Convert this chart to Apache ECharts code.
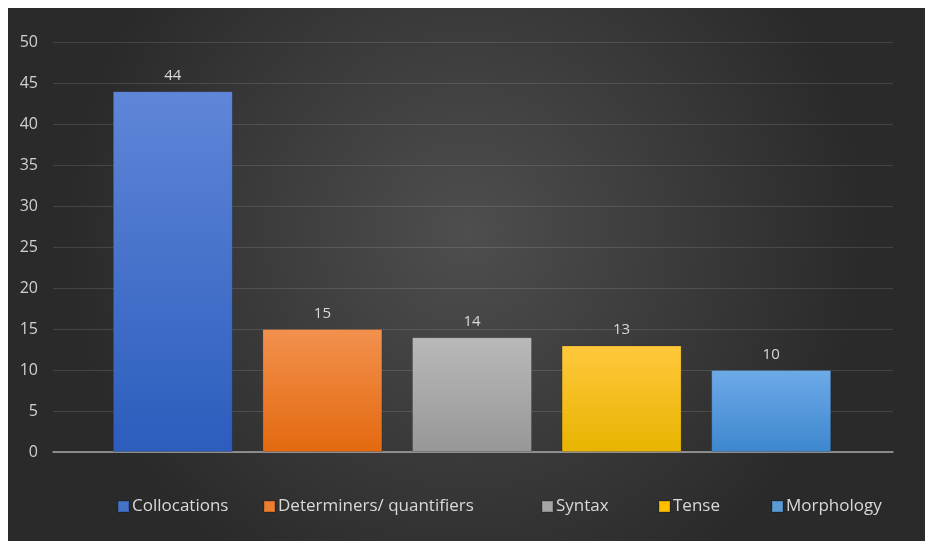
<!DOCTYPE html>
<html><head><meta charset="utf-8">
<script src="https://cdn.jsdelivr.net/npm/echarts@6/dist/echarts.min.js"></script>
<style>html,body{margin:0;padding:0;background:#fff;}#c{position:absolute;left:8px;top:8px;width:917px;height:533px;}</style>
</head><body><div id="c"></div>
<script>
const categories = ['Collocations', 'Determiners/ quantifiers', 'Syntax', 'Tense', 'Morphology'];
const values = [44, 15, 14, 13, 10];
const yTicks = [0, 5, 10, 15, 20, 25, 30, 35, 40, 45, 50];
const colorsTop = ['#5f86d8', '#f2914e', '#b9b9b9', '#ffc83c', '#6eaae8'];
const colorsBottom = ['#2c5dbd', '#e4690f', '#979797', '#e8b400', '#3d87cf'];
const legendColors = ['#4472c4', '#ed7d31', '#a5a5a5', '#ffc000', '#5b9bd5'];
const legendLefts = [109, 255, 533, 650, 763];

const chart = echarts.init(document.getElementById('c'), null, {renderer: 'canvas'});
const series = categories.map((name, i) => ({
  name: name,
  type: 'bar',
  stack: 'all',
  barWidth: 120,
  xAxisIndex: 0, yAxisIndex: 0,
  data: categories.map((c, j) => j === i ? values[i] : '-'),
  itemStyle: {
    color: {type: 'linear', x: 0, y: 0, x2: 0, y2: 1, colorStops: [
      {offset: 0, color: colorsTop[i]}, {offset: 1, color: colorsBottom[i]}]},
    borderColor: 'rgba(0,0,0,0.15)', borderWidth: 1
  },
  label: {show: true, position: 'top', distance: 8, color: '#d9d9d9', fontSize: 15,
    fontFamily: 'Open Sans', formatter: p => p.value}
}));
const legends = categories.map((c, i) => ({
  data: [{name: c, itemStyle: {color: legendColors[i]}}],
  left: legendLefts[i], top: 490, padding: 0, icon: 'rect', itemWidth: 11, itemHeight: 11,
  selectedMode: false,
  textStyle: {color: '#d9d9d9', fontSize: 17, fontFamily: 'Open Sans', padding: [0, 0, 0, -2]}
}));
chart.setOption({
  animation: false,
  backgroundColor: {type: 'radial', x: 0.5, y: 0.42, r: 0.75, colorStops: [
    {offset: 0, color: '#4e4e4e'}, {offset: 1, color: '#2a2a2a'}]},
  color: legendColors,
  grid: [
    {left: 90, right: 79, top: 34, bottom: 89},
    {left: 45, right: 32, top: 34, bottom: 89}
  ],
  legend: legends,
  xAxis: [
    {type: 'category', data: categories, gridIndex: 0,
      axisLine: {show: false}, axisTick: {show: false}, axisLabel: {show: false}},
    {type: 'value', gridIndex: 1, min: 0, max: 1, position: 'bottom',
      axisLine: {show: true, lineStyle: {color: '#a6a6a6', width: 1.5}}, axisTick: {show: false},
      axisLabel: {show: false}, splitLine: {show: false}}
  ],
  yAxis: [
    {type: 'value', gridIndex: 0, min: yTicks[0], max: yTicks[yTicks.length - 1], interval: 5,
      show: false, splitLine: {show: false}},
    {type: 'value', gridIndex: 1, min: yTicks[0], max: yTicks[yTicks.length - 1], interval: 5,
      axisLine: {show: false}, axisTick: {show: false},
      axisLabel: {color: '#d0d0d0', fontSize: 16, fontFamily: 'Open Sans', margin: 15},
      splitLine: {lineStyle: {color: 'rgba(255,255,255,0.12)', width: 1}}}
  ],
  series: series
});
</script></body></html>
